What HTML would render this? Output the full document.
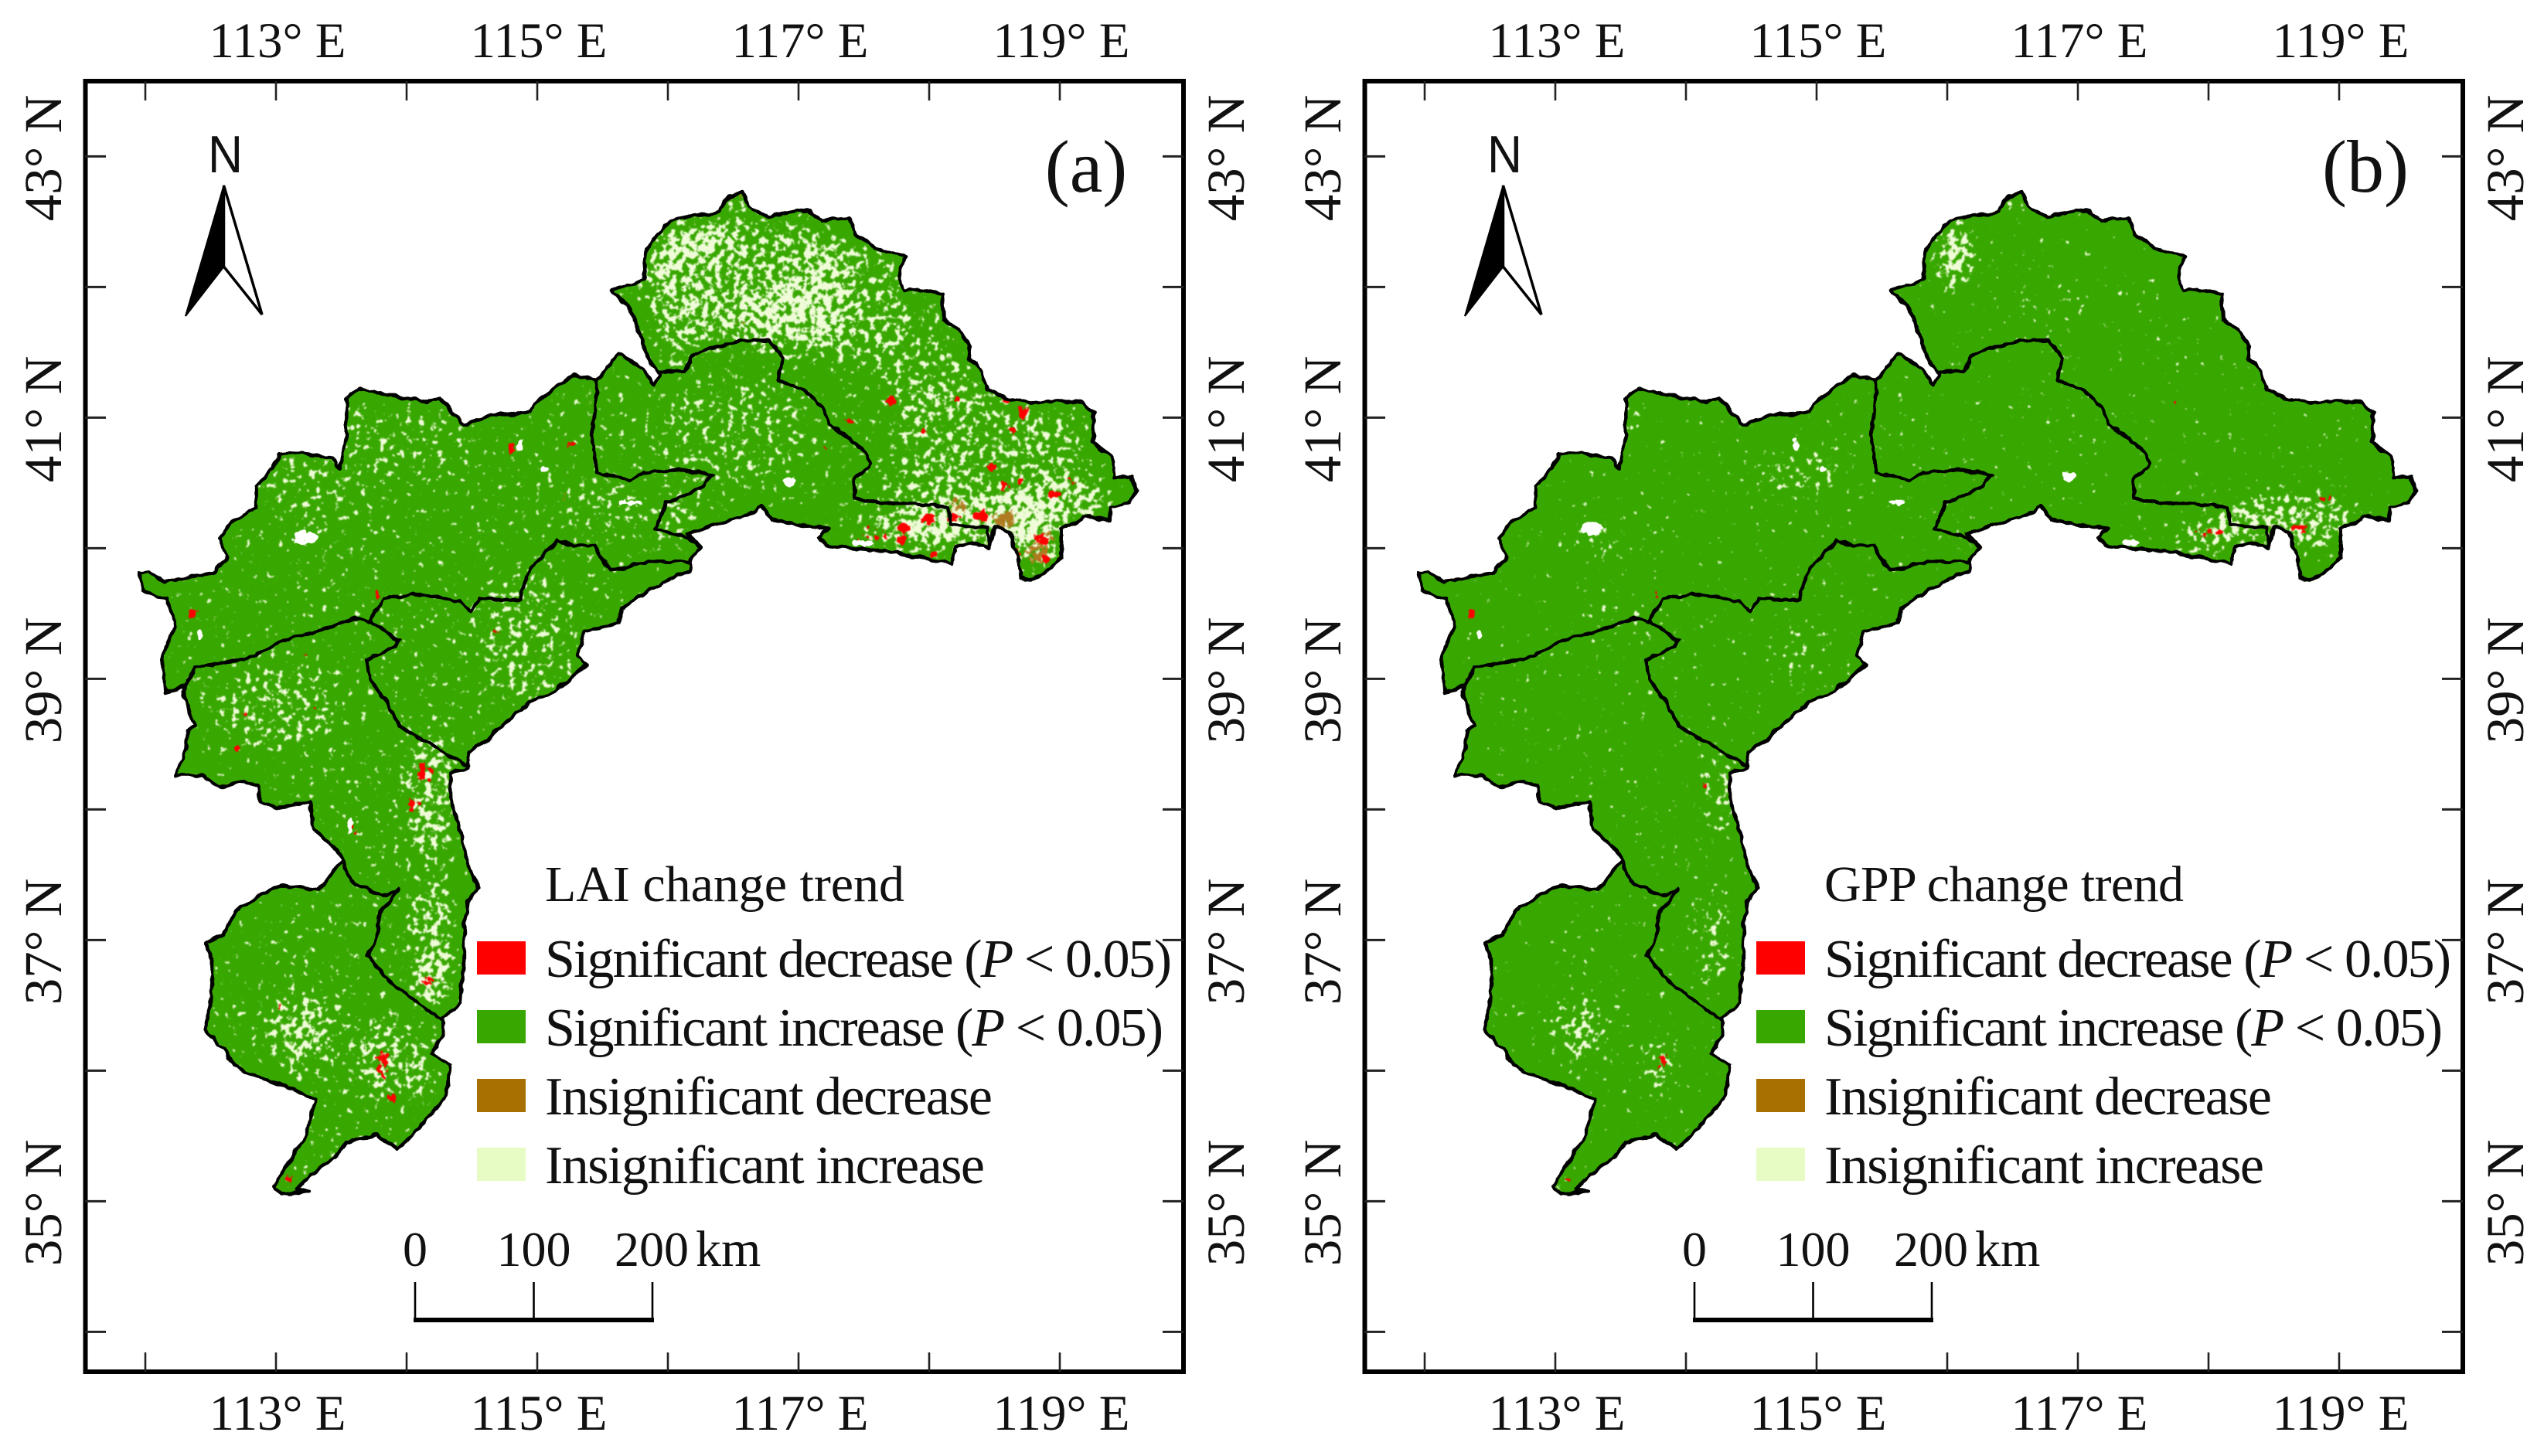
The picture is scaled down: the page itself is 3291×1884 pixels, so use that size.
<!DOCTYPE html>
<html lang="en">
<head>
<meta charset="utf-8">
<title>LAI and GPP change trend maps</title>
<style>
html,body{margin:0;padding:0;background:#fff;}
svg{display:block;}
text{font-family:"Liberation Serif",serif;fill:#111;}
</style>
</head>
<body>
<svg id="figure" xmlns="http://www.w3.org/2000/svg" width="3291" height="1884" viewBox="0 0 3291 1884">
  <defs>
    <filter id="speck-pale" filterUnits="userSpaceOnUse" x="110" y="105" width="1421" height="1670" color-interpolation-filters="sRGB">
      <feGaussianBlur in="SourceAlpha" stdDeviation="14" result="b"/>
      <feTurbulence type="fractalNoise" baseFrequency="0.12" numOctaves="3" seed="4"/>
      <feColorMatrix type="matrix" values="0 0 0 0 0  0 0 0 0 0  0 0 0 0 0  0 0 0 1 0" result="n"/>
      <feComposite in="b" in2="n" operator="arithmetic" k1="0" k2="0.55" k3="1" k4="-0.86"/>
      <feComponentTransfer result="m"><feFuncA type="linear" slope="14" intercept="0"/></feComponentTransfer>
      <feFlood flood-color="#f0fcd8"/>
      <feComposite in2="m" operator="in"/>
      <feGaussianBlur stdDeviation="0.7"/>
    </filter>
    <filter id="speck-brown" filterUnits="userSpaceOnUse" x="110" y="105" width="1421" height="1670" color-interpolation-filters="sRGB">
      <feGaussianBlur in="SourceAlpha" stdDeviation="6" result="b"/>
      <feTurbulence type="fractalNoise" baseFrequency="0.18" numOctaves="2" seed="11"/>
      <feColorMatrix type="matrix" values="0 0 0 0 0  0 0 0 0 0  0 0 0 0 0  0 0 0 1 0" result="n"/>
      <feComposite in="b" in2="n" operator="arithmetic" k1="0" k2="1.2" k3="1" k4="-1"/>
      <feComponentTransfer result="m"><feFuncA type="linear" slope="9" intercept="0"/></feComponentTransfer>
      <feFlood flood-color="#b07a20"/>
      <feComposite in2="m" operator="in"/>
      <feGaussianBlur stdDeviation="0.7"/>
    </filter>
    <filter id="speck-red" filterUnits="userSpaceOnUse" x="110" y="105" width="1421" height="1670" color-interpolation-filters="sRGB">
      <feGaussianBlur in="SourceAlpha" stdDeviation="4" result="b"/>
      <feTurbulence type="fractalNoise" baseFrequency="0.14" numOctaves="2" seed="23"/>
      <feColorMatrix type="matrix" values="0 0 0 0 0  0 0 0 0 0  0 0 0 0 0  0 0 0 1 0" result="n"/>
      <feComposite in="b" in2="n" operator="arithmetic" k1="0" k2="1.3" k3="1" k4="-1"/>
      <feComponentTransfer result="m"><feFuncA type="linear" slope="9" intercept="0"/></feComponentTransfer>
      <feFlood flood-color="#ff0000"/>
      <feComposite in2="m" operator="in"/>
      <feGaussianBlur stdDeviation="0.6"/>
    </filter>
    <filter id="speck-white" filterUnits="userSpaceOnUse" x="110" y="105" width="1421" height="1670" color-interpolation-filters="sRGB">
      <feGaussianBlur in="SourceAlpha" stdDeviation="3" result="b"/>
      <feTurbulence type="fractalNoise" baseFrequency="0.12" numOctaves="2" seed="31"/>
      <feColorMatrix type="matrix" values="0 0 0 0 0  0 0 0 0 0  0 0 0 0 0  0 0 0 1 0" result="n"/>
      <feComposite in="b" in2="n" operator="arithmetic" k1="0" k2="0.85" k3="1" k4="-1"/>
      <feComponentTransfer result="m"><feFuncA type="linear" slope="9" intercept="0"/></feComponentTransfer>
      <feFlood flood-color="#ffffff"/>
      <feComposite in2="m" operator="in"/>
    </filter>
    <filter id="rough-edge" filterUnits="userSpaceOnUse" x="110" y="105" width="1421" height="1670">
      <feTurbulence type="fractalNoise" baseFrequency="0.07" numOctaves="2" seed="7" result="t"/>
      <feDisplacementMap in="SourceGraphic" in2="t" scale="7" xChannelSelector="R" yChannelSelector="G"/>
    </filter>
  </defs>
</svg>
<script>
// Geographic axis ticks (degrees)
const lonTicks = [112, 113, 114, 115, 116, 117, 118, 119];
const latTicks = [34, 35, 36, 37, 38, 39, 40, 41, 42, 43];
const lonLabels = [113, 115, 117, 119];
const latLabels = [35, 37, 39, 41, 43];

const outlineCoords = [
[116.57,42.73],[116.62,42.62],[116.68,42.58],[116.77,42.54],[116.96,42.58],[117.08,42.59],[117.18,42.51],[117.39,42.53],[117.44,42.41],[117.58,42.30],
[117.81,42.24],[117.77,42.08],[117.80,41.97],[117.92,41.98],[118.10,41.95],[118.11,41.76],[118.23,41.67],[118.31,41.55],[118.30,41.46],[118.39,41.37],
[118.45,41.21],[118.61,41.14],[118.79,41.11],[118.98,41.13],[119.17,41.12],[119.26,41.03],[119.25,40.81],[119.40,40.70],[119.42,40.54],[119.55,40.55],
[119.59,40.44],[119.53,40.35],[119.39,40.31],[119.39,40.22],[119.20,40.24],[119.01,40.15],[119.01,39.93],[118.92,39.84],[118.78,39.75],[118.70,39.77],
[118.67,39.97],[118.61,40.13],[118.50,40.16],[118.46,40.00],[118.33,40.04],[118.20,40.00],[118.18,39.88],[117.74,39.97],[117.21,40.02],[117.15,40.08],
[117.23,40.15],[117.02,40.18],[116.80,40.22],[116.71,40.33],[116.65,40.27],[116.37,40.18],[116.15,40.11],[116.26,40.01],[116.18,39.92],[116.17,39.83],
[115.99,39.75],[115.81,39.65],[115.65,39.54],[115.62,39.43],[115.36,39.36],[115.31,39.18],[115.37,39.11],[115.25,39.00],[115.12,38.90],[114.94,38.82],
[114.69,38.61],[114.62,38.53],[114.47,38.44],[114.47,38.31],[114.33,38.28],[114.34,38.06],[114.41,37.85],[114.45,37.67],[114.49,37.53],[114.55,37.40],
[114.47,37.31],[114.44,37.10],[114.44,36.85],[114.41,36.52],[114.28,36.40],[114.28,36.27],[114.19,36.13],[114.33,36.04],[114.31,35.81],[114.19,35.67],
[114.06,35.52],[113.93,35.40],[113.77,35.51],[113.54,35.45],[113.44,35.33],[113.26,35.20],[113.16,35.09],[113.26,35.08],[113.04,35.05],[112.99,35.11],
[113.07,35.26],[113.22,35.49],[113.30,35.77],[113.13,35.86],[112.76,35.99],[112.63,36.10],[112.60,36.17],[112.45,36.31],[112.50,36.52],[112.52,36.81],
[112.46,36.98],[112.60,37.04],[112.70,37.23],[112.85,37.33],[113.04,37.42],[113.32,37.38],[113.47,37.56],[113.52,37.61],[113.47,37.69],[113.29,37.85],
[113.26,38.06],[113.01,38.01],[112.88,38.06],[112.87,38.17],[112.76,38.22],[112.57,38.17],[112.45,38.26],[112.23,38.26],[112.31,38.46],[112.32,38.60],
[112.38,38.64],[112.29,38.90],[112.31,38.95],[112.15,38.89],[112.13,39.18],[112.23,39.40],[112.17,39.61],[111.98,39.67],[111.96,39.81],[112.02,39.82],
[112.15,39.74],[112.51,39.81],[112.63,39.93],[112.57,40.08],[112.66,40.20],[112.85,40.31],[112.85,40.47],[112.98,40.61],[113.02,40.72],[113.19,40.73],
[113.44,40.69],[113.49,40.61],[113.54,40.87],[113.54,41.15],[113.63,41.22],[113.88,41.17],[114.16,41.12],[114.25,41.15],[114.44,40.95],[114.62,41.01],
[114.94,41.04],[115.03,41.15],[115.28,41.33],[115.46,41.28],[115.62,41.49],[115.81,41.37],[115.89,41.25],[115.94,41.33],[115.87,41.42],[115.71,41.83],
[115.57,41.98],[115.81,42.05],[115.84,42.30],[116.02,42.51],[116.40,42.58],[116.43,42.67]
];

// Internal administrative boundaries as [longitude, latitude]
const boundaryNorth = [[115.93,41.35],[116.12,41.35],[116.18,41.47],[116.31,41.53],[116.43,41.54],[116.52,41.59],[116.77,41.59],[116.88,41.46],[116.85,41.28],[117.05,41.21],[117.18,41.08],[117.24,40.95],[117.49,40.76],[117.55,40.65],[117.43,40.52],[117.43,40.38],[117.58,40.35],[117.86,40.35],[118.14,40.31],[118.17,40.18],[118.45,40.16],[118.46,40.00]];
const boundaryMiddle = [[115.46,41.28],[115.42,40.83],[115.46,40.58],[115.71,40.52],[115.81,40.58],[116.06,40.60],[116.34,40.56],[116.24,40.45],[115.99,40.35],[115.90,40.15],[116.15,40.08],[116.24,40.02]];
const boundaryCentral = [[116.18,39.90],[115.87,39.90],[115.56,39.83],[115.43,40.02],[115.28,40.02],[115.15,40.06],[114.94,39.84],[114.87,39.61],[114.56,39.61],[114.49,39.52],[114.41,39.60],[114.06,39.65],[113.82,39.61],[113.72,39.45],[113.94,39.29],[113.92,39.25],[113.69,39.15],[113.72,39.00],[113.87,38.79],[113.94,38.64],[114.19,38.49],[114.47,38.33]];
const boundaryWest = [[113.72,39.43],[113.60,39.47],[113.38,39.38],[113.13,39.32],[112.76,39.15],[112.38,39.09],[112.31,38.95]];
const boundarySouth = [[113.52,37.61],[113.57,37.45],[113.82,37.33],[113.94,37.40],[113.78,37.17],[113.78,37.03],[113.70,36.88],[113.88,36.67],[114.28,36.38]];
const boundaries = [boundaryNorth, boundaryMiddle, boundaryCentral, boundaryWest, boundarySouth];

// Class patches: [longitude, latitude, lon radius, lat radius, density]
const paleLAI = [
[116.6,42.1,.8,.45,.46],[116.9,41.75,.5,.25,.52],[116.2,42.35,.3,.2,.52],[117.4,41.9,.5,.5,.36],[118,41.4,.4,.4,.28],[116.1,41.7,.25,.3,.4],[118.3,40.9,.6,.35,.34],[119,40.8,.3,.3,.3],
[118.4,40.2,.6,.2,.7],[118.9,40.35,.5,.2,.64],[117.9,40.15,.4,.15,.64],[118.85,40,.15,.2,.72],[118,40.5,.4,.2,.33],[116.5,40.9,.6,.4,.26],[116.1,40.35,.15,.15,.38],[116,40.2,.2,.05,.5],
[114.9,40.15,.6,.3,.0],[113.3,40.5,.4,.3,.26],[114.0,40.8,.5,.25,.24],[115.5,40.3,.3,.2,.26],[114.9,39.3,.4,.5,.32],[113,38.8,.5,.3,.34],[114.2,38.1,.2,.5,.55],[114.2,37,.15,.5,.58],[114.2,36.7,.15,.2,.6],
[113.2,36.3,.25,.3,.55],[113.8,36.1,.2,.3,.5],[113.6,35.3,.2,.2,.5],[113.15,35.15,.08,.1,.7],[114.1,36,.1,.3,.5],
[115.95,42.2,.06,.2,.98],[116.55,42.68,.08,.08,.95],[115.62,41.98,.06,.05,.98],[113.56,41,.05,.15,.98],[112.95,40.65,.06,.08,.95]
];
const brownLAI = [[118.58,40.22,.12,.09,.58],[118.22,40.33,.1,.07,.58],[118.83,39.96,.12,.1,.55],[118.92,40.1,.06,.06,.58],[116.55,41.75,.05,.05,.6],[116.58,42.68,.04,.04,.75],[115.2,40.4,.05,.04,.65]];
const redLAI = [
[117.71,41.12,.05,.05,.72],[118.72,41.04,.04,.07,.72],[118.64,40.9,.04,.04,.72],[117.95,40.9,.03,.03,.78],[118.48,40.62,.06,.03,.72],[118.95,40.41,.08,.03,.72],[119.09,40.51,.04,.03,.72],[118.4,40.25,.06,.06,.7],
[117.99,40.22,.06,.05,.7],[117.81,40.16,.07,.04,.7],[117.79,40.06,.05,.04,.7],[118.03,39.95,.04,.04,.7],[118.58,40.47,.05,.05,.62],[118.86,40.07,.07,.05,.62],[118.89,39.92,.05,.04,.66],[118.7,40.53,.04,.04,.66],[118.18,40.23,.08,.05,.5],[117.38,40.98,.05,.03,.66],[118.21,41.14,.03,.03,.78],[118.59,41.13,.04,.03,.72],
[115.25,40.79,.05,.03,.7],[114.81,40.76,.04,.05,.62],[112.37,39.5,.04,.04,.9],[113.78,39.65,.03,.03,.85],[114.13,38.28,.09,.09,.46],[114.06,38.03,.07,.07,.46],[112.7,38.46,.03,.04,.8],
[113.82,36.06,.07,.13,.46],[113.88,35.79,.05,.05,.55],[114.15,36.69,.06,.04,.66],[113.1,35.18,.04,.06,.55],[113.6,37.85,.04,.04,.6],[113.04,36.49,.04,.04,.55],[118.6,39.95,.14,.08,.36],[117.55,40.1,.15,.08,.36],
[114.69,39.36,.03,.03,.7],[114.16,39.2,.03,.03,.7],[113.22,39.18,.03,.03,.7],[112.76,38.75,.03,.03,.7],[113.29,38.79,.03,.03,.7],[113.5,38.5,.03,.02,.7],[116.6,40.9,.02,.04,.75],[117.2,40.75,.03,.03,.65],[115.9,40.1,.04,.02,.7]
];
const whiteLAI = [[113.22,40.08,.11,.06,1],[115.06,40.6,.05,.03,1],[115.71,40.35,.11,.025,1],[112.41,39.34,.03,.06,1],[116.93,40.51,.08,.04,1],[117.49,40.04,.1,.03,1],[114.87,40.79,.025,.07,1],[113.57,37.88,.03,.07,1]];

const paleGPP = [
[118.6,40.2,.6,.2,.62],[118,40.1,.3,.1,.62],[114.3,38.1,.12,.3,.6],[114.2,37,.1,.4,.58],[113.2,36.3,.2,.25,.55],[113.8,36.05,.12,.2,.55],[113.05,35.15,.08,.1,.7],[114.8,40.55,.3,.15,.36],[115.1,40.7,.2,.1,.38],[113.3,40.05,.2,.1,.45],[116.3,40.05,.2,.05,.5],[117.9,40.0,.1,.05,.5],
[116.05,42.25,.12,.28,.9],[116.5,42.65,.08,.08,.9],[113.56,41,.05,.15,.98],[113.5,39.4,.3,.2,.2],[114.9,39.2,.3,.2,.22],[116.8,41.9,.3,.2,.18]
];
const brownGPP = [[118.5,40.15,.08,.05,.45]];
const redGPP = [[112.37,39.5,.03,.05,.9],[118.0,40.12,.14,.05,.4],[118.7,40.15,.1,.07,.38],[118.9,40.38,.08,.03,.55],[117.75,41.1,.04,.05,.55],[113.82,36.06,.05,.1,.45],[114.13,38.2,.05,.05,.44],[113.1,35.17,.03,.05,.5],[113.78,39.65,.025,.025,.85],[115.25,40.4,.025,.025,.7]];
const whiteGPP = [[113.28,40.15,.09,.06,1],[115.05,40.6,.04,.03,1],[115.62,40.35,.09,.025,1],[112.41,39.34,.03,.05,1],[116.93,40.55,.07,.04,1],[117.4,40.04,.09,.03,1],[114.84,40.8,.025,.07,1]];

// Legend contents
const legendLabels = ['Significant decrease (', 'Significant increase (', 'Insignificant decrease', 'Insignificant increase'];
const legendColors = ['#ff0000', '#38a800', '#a87000', '#e6fcc4'];
const legendNames = ['significant-decrease', 'significant-increase', 'insignificant-decrease', 'insignificant-increase'];
const legendWidths = [811, 800, 579, 569];
const legendBaselines = [1262, 1351, 1440, 1529];
const scaleValues = [0, 100, 200];

const svg = document.getElementById('figure');
const NS = 'http://www.w3.org/2000/svg';
const x = lon => 357 + (lon - 113) * 169;
const y = lat => 202.4 + (43 - lat) * 169;
const kmX = km => 537 + km * 1.535;

function mk(parent, tag, attrs, txt) {
  const el = document.createElementNS(NS, tag);
  for (const k in attrs) el.setAttribute(k, attrs[k]);
  if (txt !== undefined) el.textContent = txt;
  parent.appendChild(el);
  return el;
}
const pathOf = (coords, close) => coords.map((c, i) => (i ? 'L' : 'M') + x(c[0]).toFixed(1) + ' ' + y(c[1]).toFixed(1)).join('') + (close ? 'Z' : '');

function addBlobs(group, blobs, color, name) {
  blobs.forEach(b => {
    const e = mk(group, 'ellipse', {cx: x(b[0]), cy: y(b[1]), rx: b[2] * 169, ry: b[3] * 169, fill: color, 'fill-opacity': b[4]});
    
    
  });
}

function drawPanel(id, dx, letter, title, pale, brown, red, white, baseDensity) {
  const p = mk(svg, 'g', {transform: 'translate(' + dx + ',0)'});
  
  

  const clip = mk(p, 'clipPath', {id: 'clip-' + id});
  mk(clip, 'path', {d: pathOf(outlineCoords, true)});

  const land = mk(p, 'path', {d: pathOf(outlineCoords, true), fill: '#38a800'});
  
  

  const tex = mk(p, 'g', {'clip-path': 'url(#clip-' + id + ')'});
  
  

  const gp = mk(tex, 'g', {filter: 'url(#speck-pale)'});
  
  
  const base = mk(gp, 'path', {d: pathOf(outlineCoords, true), fill: '#000', 'fill-opacity': baseDensity});
  
  
  addBlobs(gp, pale, '#000', 'pale-patch');

  const gb = mk(tex, 'g', {filter: 'url(#speck-brown)'});
  
  
  addBlobs(gb, brown, '#000', 'brown-patch');

  const gr = mk(tex, 'g', {filter: 'url(#speck-red)'});
  
  
  addBlobs(gr, red, '#000', 'red-patch');

  const gw = mk(tex, 'g', {filter: 'url(#speck-white)'});
  
  
  addBlobs(gw, white, '#000', 'white-patch');

  const lines = mk(p, 'g', {fill: 'none', stroke: '#000', 'stroke-linejoin': 'round', 'stroke-linecap': 'round', filter: 'url(#rough-edge)'});
  
  
  const ol = mk(lines, 'path', {d: pathOf(outlineCoords, true), 'stroke-width': 4.5});
  
  
  boundaries.forEach(b => {
    const l = mk(lines, 'path', {d: pathOf(b, false), 'stroke-width': 4.5});
    
    
  });

  const fr = mk(p, 'rect', {x: 110.5, y: 105, width: 1420.5, height: 1670, fill: 'none', stroke: '#000', 'stroke-width': 6});
  
  

  lonTicks.forEach(t => {
    const a = mk(p, 'line', {x1: x(t), x2: x(t), y1: 105, y2: 130, stroke: '#222', 'stroke-width': 2.6});
    
    
    const b = mk(p, 'line', {x1: x(t), x2: x(t), y1: 1750, y2: 1775, stroke: '#222', 'stroke-width': 2.6});
    
    
  });
  latTicks.forEach(t => {
    const a = mk(p, 'line', {x1: 110, x2: 137, y1: y(t), y2: y(t), stroke: '#222', 'stroke-width': 3});
    
    
    const b = mk(p, 'line', {x1: 1504, x2: 1531, y1: y(t), y2: y(t), stroke: '#222', 'stroke-width': 3});
    
    
  });
  lonLabels.forEach(t => {
    const a = mk(p, 'text', {x: x(t) + 2, y: 74, 'text-anchor': 'middle', 'font-size': 65}, t + '\u00b0 E');
    
    
    const b = mk(p, 'text', {x: x(t) + 2, y: 1850, 'text-anchor': 'middle', 'font-size': 65}, t + '\u00b0 E');
    
    
  });
  latLabels.forEach(t => {
    const a = mk(p, 'text', {x: 79, y: y(t) + 2, 'text-anchor': 'middle', 'font-size': 69, transform: 'rotate(-90 79 ' + (y(t) + 2) + ')'}, t + '\u00b0 N');
    
    
    const b = mk(p, 'text', {x: 1609, y: y(t) + 2, 'text-anchor': 'middle', 'font-size': 69, transform: 'rotate(-90 1609 ' + (y(t) + 2) + ')'}, t + '\u00b0 N');
    
    
  });

  const pl = mk(p, 'text', {x: 1405, y: 248, 'text-anchor': 'middle', 'font-size': 96}, '(' + letter + ')');
  
  

  const na = mk(p, 'g', {});
  
  
  const nt = mk(na, 'text', {x: 269, y: 223, 'font-size': 68, textLength: 45, lengthAdjust: 'spacingAndGlyphs', style: 'font-family:"Liberation Sans",sans-serif'}, 'N');
  
  
  const nl = mk(na, 'polygon', {points: '289.5,240 240,409 289.5,345', fill: '#000', stroke: '#000', 'stroke-width': 2});
  
  
  const nr = mk(na, 'polygon', {points: '289.5,240 339,407 289.5,345', fill: '#fff', stroke: '#000', 'stroke-width': 3.5});
  
  

  const lg = mk(p, 'g', {});
  
  
  const lt = mk(lg, 'text', {x: 705, y: 1166, 'font-size': 66, textLength: 465}, title);
  
  
  legendLabels.forEach((label, i) => {
    const s = mk(lg, 'rect', {x: 617, y: legendBaselines[i] - 44, width: 63, height: 43, fill: legendColors[i]});
    
    
    const t = mk(lg, 'text', {x: 705, y: legendBaselines[i] + 2, 'font-size': 70, textLength: legendWidths[i]}, label);
    
    
    if (i < 2) {
      mk(t, 'tspan', {'font-style': 'italic'}, 'P');
      mk(t, 'tspan', {}, ' < 0.05)');
    }
  });

  const sb = mk(p, 'g', {});
  
  
  const sl = mk(sb, 'line', {x1: kmX(0) - 2, x2: kmX(200) + 2, y1: 1708, y2: 1708, stroke: '#000', 'stroke-width': 6});
  
  
  scaleValues.forEach(v => {
    const k = mk(sb, 'line', {x1: kmX(v), x2: kmX(v), y1: 1659, y2: 1708, stroke: '#000', 'stroke-width': 2.6});
    
    
    const s = mk(sb, 'text', {x: kmX(v) - (v === 200 ? 1 : 0), y: 1638, 'text-anchor': 'middle', 'font-size': 64}, String(v));
    
    
  });
  const km = mk(sb, 'text', {x: 900, y: 1638, 'font-size': 66}, 'km');
  
  
}

drawPanel('lai', 0, 'a', 'LAI change trend', paleLAI, brownLAI, redLAI, whiteLAI, 0.3);
drawPanel('gpp', 1655, 'b', 'GPP change trend', paleGPP, brownGPP, redGPP, whiteGPP, 0.2);
</script>
</body>
</html>
